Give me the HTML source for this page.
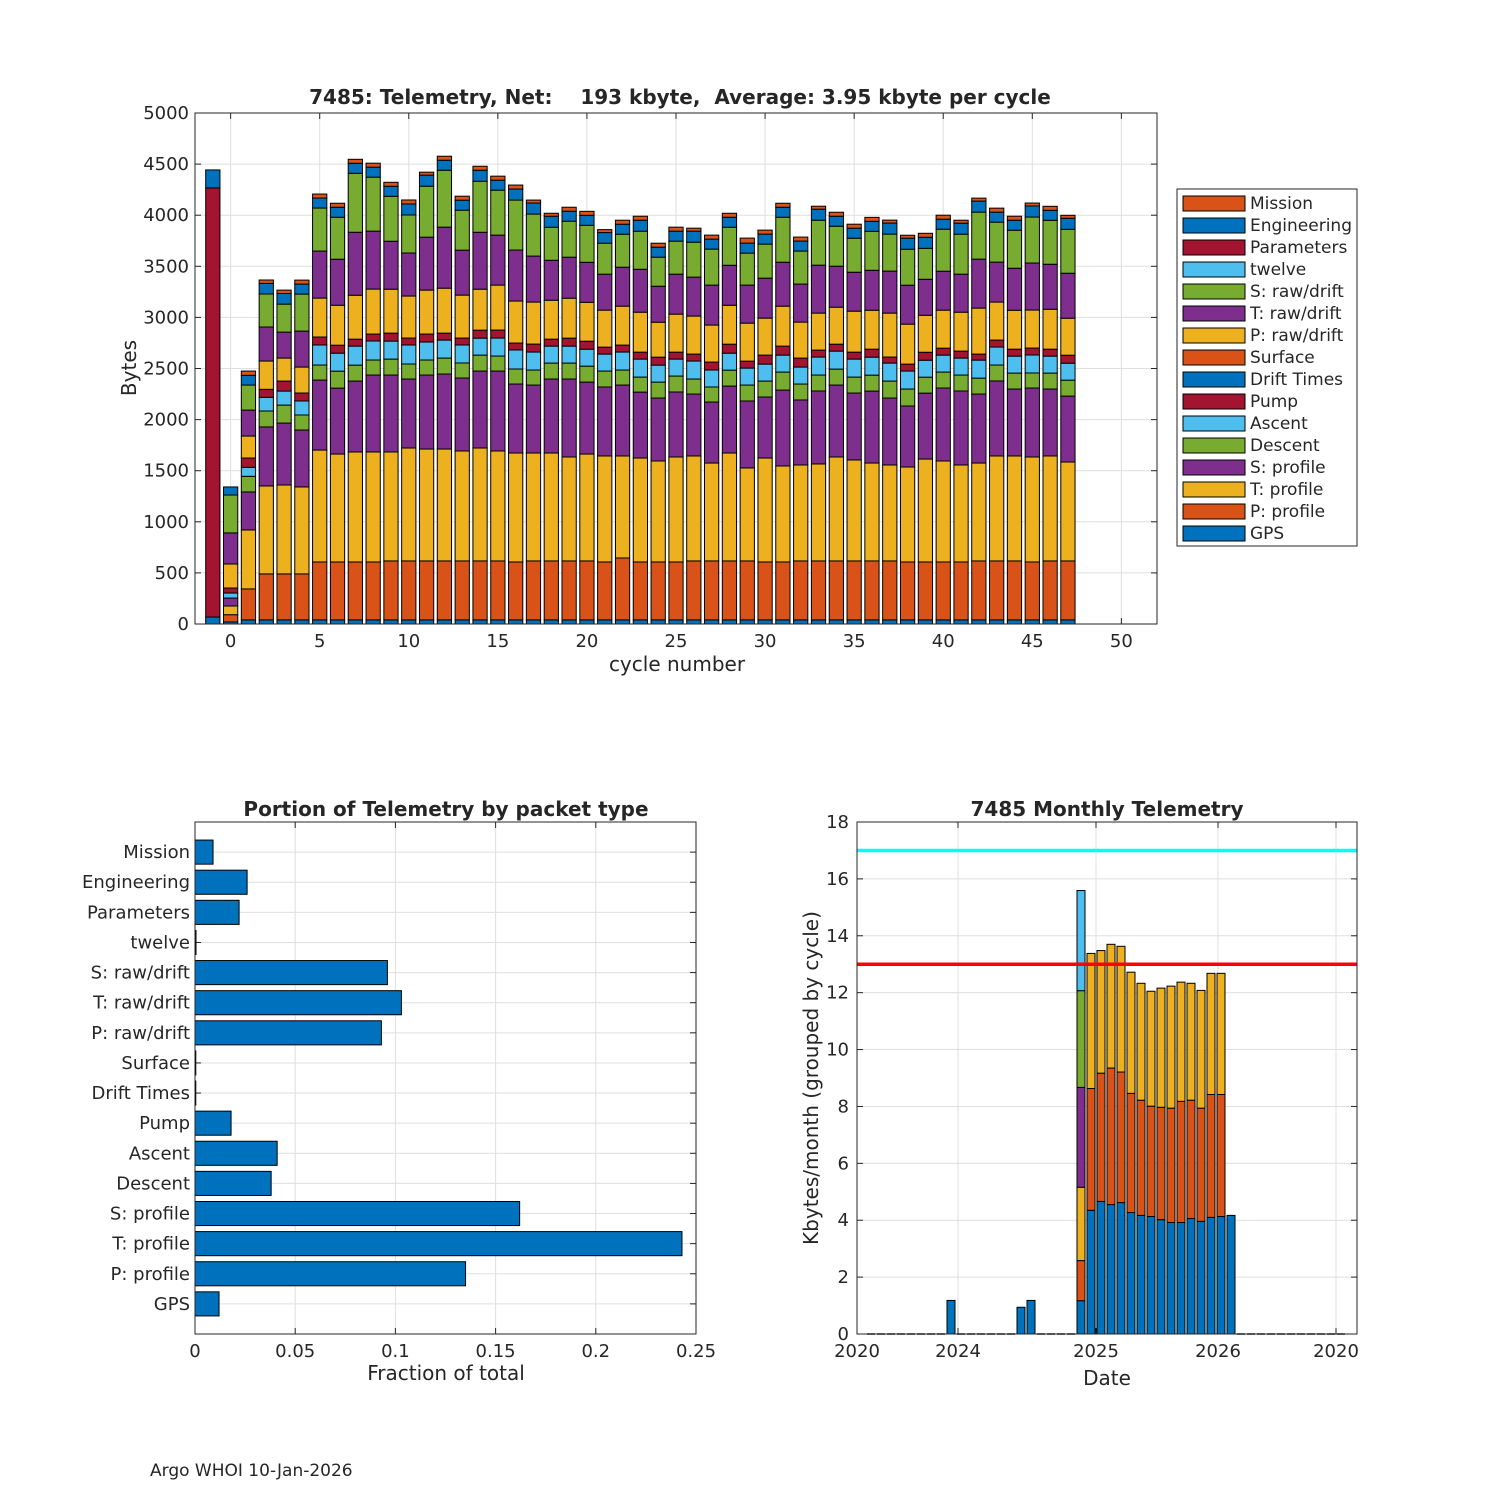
<!DOCTYPE html>
<html><head><meta charset="utf-8">
<style>
html,body{margin:0;padding:0;background:#fff;}
svg{display:block;font-family:"DejaVu Sans","Liberation Sans",sans-serif;}
text{fill:#262626;}
</style></head>
<body>
<svg id="fig" width="1500" height="1500" viewBox="0 0 1500 1500" xmlns="http://www.w3.org/2000/svg">
<rect x="0" y="0" width="1500" height="1500" fill="#fff"/>
<text x="150" y="1476" font-size="17">Argo WHOI 10-Jan-2026</text>
</svg>
<script>
// ---------- Top chart data (bytes per packet type per cycle) ----------
const cycles = [-1,0,1,2,3,4,5,6,7,8,9,10,11,12,13,14,15,16,17,18,19,20,21,22,23,24,25,26,27,28,29,30,31,32,33,34,35,36,37,38,39,40,41,42,43,44,45,46,47];
const gps = [68,20,40,40,40,40,40,40,40,40,40,40,40,40,40,40,40,40,40,40,40,40,40,40,40,40,40,40,40,40,40,40,40,40,40,40,40,40,40,40,40,40,40,40,40,40,40,40,40];
const pProfile = [0,71,303,450,450,450,567,567,567,567,577,577,577,577,577,577,577,567,577,577,577,577,567,606,567,567,567,577,577,577,577,567,567,577,577,577,577,577,577,567,567,567,567,577,577,577,567,577,577];
const tProfile = [0,85,577,861,870,851,1095,1056,1076,1076,1066,1105,1095,1095,1076,1105,1076,1066,1056,1056,1017,1046,1037,998,1017,988,1027,1027,958,1056,910,1017,939,939,949,1017,988,958,939,929,1007,988,949,958,1027,1027,1027,1027,968];
const sProfile = [0,78,372,577,606,557,685,645,694,753,753,675,724,734,714,753,782,675,665,724,763,704,675,694,645,616,636,606,597,655,655,597,743,636,714,704,655,704,655,597,645,714,724,675,734,655,675,655,645];
const descent = [0,0,153,156,176,147,147,166,156,147,156,147,147,156,147,156,147,147,147,156,156,156,156,147,147,156,156,147,147,156,156,156,176,156,156,156,156,156,166,166,156,156,156,156,156,156,147,156,156];
const ascent = [0,49,88,134,137,137,196,176,186,186,176,186,176,176,176,166,176,186,176,166,166,166,166,176,176,166,166,176,166,166,166,166,166,166,176,176,176,176,176,176,166,166,166,176,176,166,176,166,166];
const pump = [0,49,91,78,98,78,78,78,68,68,78,68,78,68,68,78,78,68,78,68,78,78,68,68,68,78,68,68,78,88,68,88,88,88,68,68,68,78,59,68,78,68,68,59,68,68,68,68,78];
const driftTimes = [0,0,0,0,0,0,0,0,0,0,0,0,0,0,0,0,0,0,0,0,0,0,0,0,0,0,0,0,0,0,0,0,0,0,0,0,0,0,0,0,0,0,0,0,0,0,0,0,0];
const surface = [0,0,0,0,0,0,0,0,0,0,0,0,0,0,0,0,0,0,0,0,0,0,0,0,0,0,0,0,0,0,0,0,0,0,0,0,0,0,0,0,0,0,0,0,0,0,0,0,0];
const pRaw = [0,235,215,277,225,254,381,391,430,440,430,411,430,440,420,401,440,411,411,381,391,381,362,381,391,342,372,372,362,381,372,362,391,352,362,362,401,381,430,391,362,372,381,450,372,381,372,391,362];
const tRaw = [0,304,254,333,254,352,460,450,616,567,469,421,518,597,440,557,489,499,450,391,401,391,352,381,420,352,391,381,391,391,372,391,430,372,469,401,381,391,411,381,352,381,372,479,391,411,460,440,440];
const sRaw = [0,371,245,323,274,362,421,411,577,528,440,372,499,557,391,499,440,489,411,323,352,362,303,323,372,284,323,342,352,372,313,333,440,323,440,391,333,381,362,352,303,411,391,460,391,372,450,430,430];
const twelve = [0,0,0,0,0,0,0,0,0,0,0,0,0,0,0,0,0,0,0,0,0,0,0,0,0,0,0,0,0,0,0,0,0,0,0,0,0,0,0,0,0,0,0,0,0,0,0,0,0];
const parameters = [4199,0,0,0,0,0,0,0,0,0,0,0,0,0,0,0,0,0,0,0,0,0,0,0,0,0,0,0,0,0,0,0,0,0,0,0,0,0,0,0,0,0,0,0,0,0,0,0,0];
const engineering = [176,79,95,104,104,98,98,98,98,98,98,108,108,98,98,108,98,108,108,108,98,98,104,98,108,98,98,108,98,98,98,98,98,98,108,98,98,98,108,108,108,98,108,108,98,98,108,98,108];
const mission = [0,0,42,33,33,39,39,39,39,39,39,39,29,39,39,39,39,39,29,29,39,39,29,39,39,39,39,29,39,39,49,39,39,39,29,39,39,39,29,29,39,39,29,29,39,39,29,39,29];
const xTicksTop = [0,5,10,15,20,25,30,35,40,45,50];
const yTicksTop = [0,500,1000,1500,2000,2500,3000,3500,4000,4500,5000];

// ---------- Bottom-left data ----------
const packetTypes = ["GPS","P: profile","T: profile","S: profile","Descent","Ascent","Pump","Drift Times","Surface","P: raw/drift","T: raw/drift","S: raw/drift","twelve","Parameters","Engineering","Mission"];
const fractions = [0.012,0.135,0.243,0.162,0.038,0.041,0.018,0.0004,0.0004,0.093,0.103,0.096,0.0005,0.022,0.026,0.009];
const xTicksFrac = [0,0.05,0.1,0.15,0.2,0.25];
const xTickFracLabels = ["0","0.05","0.1","0.15","0.2","0.25"];

// ---------- Bottom-right data (monthly, month index relative) ----------
const months = [-21,-20,-19,-18,-17,-16,-15,-14,-13,-12,-11,-10,-9,-8,-7,-6,-5,-4,-3,-2,-1,0,1,2,3,4,5,6,7,8,9,10,11,12,13,14,15,16,17,18,19,20,21,22,23,24,25,26];
const mBlue = [0,0,0,0,0,0,0,0,1.18,0,0,0,0,0,0,0.94,1.18,0,0,0,0,1.17,4.35,4.66,4.55,4.62,4.27,4.17,4.13,4.02,3.92,3.92,4.06,3.96,4.10,4.13,4.17,0,0,0,0,0,0,0,0,0,0,0];
const mOrange = [0,0,0,0,0,0,0,0,0,0,0,0,0,0,0,0,0,0,0,0,0,1.41,4.28,4.51,4.80,4.59,4.19,4.05,3.88,3.95,4.02,4.26,4.16,3.98,4.32,4.29,0,0,0,0,0,0,0,0,0,0,0,0];
const mYellow = [0,0,0,0,0,0,0,0,0,0,0,0,0,0,0,0,0,0,0,0,0,2.58,4.75,4.31,4.35,4.42,4.26,4.11,4.04,4.19,4.29,4.19,4.11,4.14,4.26,4.26,0,0,0,0,0,0,0,0,0,0,0,0];
const mPurple = [0,0,0,0,0,0,0,0,0,0,0,0,0,0,0,0,0,0,0,0,0,3.51,0,0,0,0,0,0,0,0,0,0,0,0,0,0,0,0,0,0,0,0,0,0,0,0,0,0];
const mGreen = [0,0,0,0,0,0,0,0,0,0,0,0,0,0,0,0,0,0,0,0,0,3.40,0,0,0,0,0,0,0,0,0,0,0,0,0,0,0,0,0,0,0,0,0,0,0,0,0,0];
const mLight = [0,0,0,0,0,0,0,0,0,0,0,0,0,0,0,0,0,0,0,0,0,3.52,0,0,0,0,0,0,0,0,0,0,0,0,0,0,0,0,0,0,0,0,0,0,0,0,0,0];
const yTicksMonth = [0,2,4,6,8,10,12,14,16,18];
const dateTickMonths = [-22.4,-12.3,1.5,13.7,25.5];
const dateTickLabels = ["2020","2024","2025","2026","2020"];
const limitLines = [17,13];

const NS = "http://www.w3.org/2000/svg";
const fig = document.getElementById('fig');
function mk(tag, attrs, parent){
  const e = document.createElementNS(NS, tag);
  for (const k in attrs) e.setAttribute(k, attrs[k]);
  (parent||fig).appendChild(e);
  return e;
}
function txt(parent, x, y, s, size, anchor, extra){
  const t = mk('text', Object.assign({x:x, y:y, 'font-size':size, 'text-anchor':anchor||'middle'}, extra||{}), parent);
  t.textContent = s;
  return t;
}
const C = {blue:"#0072BD",orange:"#D95319",yellow:"#EDB120",purple:"#7E2F8E",green:"#77AC30",light:"#4DBEEE",red:"#A2142F"};

// ================= TOP CHART =================
const T = {x0:195, x1:1157, y0:113, y1:624, xmin:-2, xmax:52, ymin:0, ymax:5000};
const tx = v => T.x0 + (v - T.xmin)/(T.xmax - T.xmin)*(T.x1 - T.x0);
const ty = v => T.y1 - (v - T.ymin)/(T.ymax - T.ymin)*(T.y1 - T.y0);
const topG = mk('g', {});


mk('rect', {x:T.x0, y:T.y0, width:T.x1-T.x0, height:T.y1-T.y0, fill:'#fff'}, topG);
xTicksTop.forEach(v => {
  mk('line', {x1:tx(v), x2:tx(v), y1:T.y0, y2:T.y1, stroke:'#dfdfdf', 'stroke-width':1}, topG);
  mk('line', {x1:tx(v), x2:tx(v), y1:T.y1, y2:T.y1-6, stroke:'#262626'}, topG);
  mk('line', {x1:tx(v), x2:tx(v), y1:T.y0, y2:T.y0+6, stroke:'#262626'}, topG);
  const t = txt(topG, tx(v), T.y1+23, String(v), 18);
  
});
yTicksTop.forEach(v => {
  mk('line', {x1:T.x0, x2:T.x1, y1:ty(v), y2:ty(v), stroke:'#dfdfdf', 'stroke-width':1}, topG);
  mk('line', {x1:T.x0, x2:T.x0+6, y1:ty(v), y2:ty(v), stroke:'#262626'}, topG);
  mk('line', {x1:T.x1, x2:T.x1-6, y1:ty(v), y2:ty(v), stroke:'#262626'}, topG);
  const t = txt(topG, T.x0-6, ty(v)+6, String(v), 18, 'end');
  
});
const topSeries = [
  ["GPS", gps, C.blue], ["P: profile", pProfile, C.orange], ["T: profile", tProfile, C.yellow],
  ["S: profile", sProfile, C.purple], ["Descent", descent, C.green], ["Ascent", ascent, C.light],
  ["Pump", pump, C.red], ["Drift Times", driftTimes, C.blue], ["Surface", surface, C.orange],
  ["P: raw/drift", pRaw, C.yellow], ["T: raw/drift", tRaw, C.purple], ["S: raw/drift", sRaw, C.green],
  ["twelve", twelve, C.light], ["Parameters", parameters, C.red], ["Engineering", engineering, C.blue],
  ["Mission", mission, C.orange]
];
const barW = 0.8;
cycles.forEach((cy, i) => {
  let acc = 0;
  topSeries.forEach(s => {
    const v = s[1][i];
    if (v > 0) {
      const r = mk('rect', {x:tx(cy-barW/2), y:ty(acc+v), width:tx(cy+barW/2)-tx(cy-barW/2), height:ty(acc)-ty(acc+v), fill:s[2], stroke:'#000', 'stroke-width':1}, topG);
      
      
    }
    acc += v;
  });
});
mk('rect', {x:T.x0, y:T.y0, width:T.x1-T.x0, height:T.y1-T.y0, fill:'none', stroke:'#262626', 'stroke-width':1}, topG);
const tt = txt(topG, 680, 104, "7485: Telemetry, Net:    193 kbyte,  Average: 3.95 kbyte per cycle", 20, 'middle', {'font-weight':'bold', style:'white-space:pre'});


const xl = txt(topG, 677, 671, "cycle number", 20);


const yl = txt(topG, 136, 368, "Bytes", 20, 'middle', {transform:'rotate(-90 136 368)'});



// legend
const lg = mk('g', {});


mk('rect', {x:1177, y:189, width:180, height:357, fill:'#fff', stroke:'#262626', 'stroke-width':1}, lg);
topSeries.slice().reverse().forEach((s, k) => {
  const y = 203 + k*22;
  const g = mk('g', {}, lg);
  
  
  mk('rect', {x:1183, y:y-7, width:62, height:15, fill:s[2], stroke:'#000', 'stroke-width':1}, g);
  txt(g, 1250, y+6, s[0], 17, 'start');
});

// ================= BOTTOM-LEFT =================
const L = {x0:195, x1:696, y0:822, y1:1334, xmin:0, xmax:0.25, ymin:0, ymax:17};
const lx = v => L.x0 + (v - L.xmin)/(L.xmax - L.xmin)*(L.x1 - L.x0);
const ly = v => L.y1 - (v - L.ymin)/(L.ymax - L.ymin)*(L.y1 - L.y0);
const bl = mk('g', {});


xTicksFrac.forEach((v, k) => {
  mk('line', {x1:lx(v), x2:lx(v), y1:L.y0, y2:L.y1, stroke:'#dfdfdf'}, bl);
  mk('line', {x1:lx(v), x2:lx(v), y1:L.y1, y2:L.y1-6, stroke:'#262626'}, bl);
  mk('line', {x1:lx(v), x2:lx(v), y1:L.y0, y2:L.y0+6, stroke:'#262626'}, bl);
  const t = txt(bl, lx(v), L.y1+23, xTickFracLabels[k], 18);
  
});
packetTypes.forEach((p, k) => {
  const c = k + 1;
  mk('line', {x1:L.x0, x2:L.x1, y1:ly(c), y2:ly(c), stroke:'#dfdfdf'}, bl);
  mk('line', {x1:L.x0, x2:L.x0+6, y1:ly(c), y2:ly(c), stroke:'#262626'}, bl);
  mk('line', {x1:L.x1, x2:L.x1-6, y1:ly(c), y2:ly(c), stroke:'#262626'}, bl);
  const t = txt(bl, L.x0-5, ly(c)+6, p, 18, 'end');
  
  const r = mk('rect', {x:lx(0), y:ly(c+0.4), width:lx(fractions[k])-lx(0), height:ly(c-0.4)-ly(c+0.4), fill:C.blue, stroke:'#000', 'stroke-width':1}, bl);
  
  
});
mk('rect', {x:L.x0, y:L.y0, width:L.x1-L.x0, height:L.y1-L.y0, fill:'none', stroke:'#262626'}, bl);
const bt = txt(bl, 446, 816, "Portion of Telemetry by packet type", 20, 'middle', {'font-weight':'bold'});

const bx = txt(bl, 446, 1380, "Fraction of total", 20);


// ================= BOTTOM-RIGHT =================
const R = {x0:857, x1:1357, y0:822, y1:1334, ymin:0, ymax:18};
const rx = m => 1081 + m*10.0;
const ry = v => R.y1 - (v - R.ymin)/(R.ymax - R.ymin)*(R.y1 - R.y0);
const br = mk('g', {});


yTicksMonth.forEach(v => {
  mk('line', {x1:R.x0, x2:R.x1, y1:ry(v), y2:ry(v), stroke:'#dfdfdf'}, br);
  mk('line', {x1:R.x0, x2:R.x0+6, y1:ry(v), y2:ry(v), stroke:'#262626'}, br);
  mk('line', {x1:R.x1, x2:R.x1-6, y1:ry(v), y2:ry(v), stroke:'#262626'}, br);
  const t = txt(br, R.x0-8, ry(v)+6, String(v), 18, 'end');
  
});
dateTickMonths.forEach((m, k) => {
  const x = rx(m);
  mk('line', {x1:x, x2:x, y1:R.y0, y2:R.y1, stroke:'#dfdfdf'}, br);
  mk('line', {x1:x, x2:x, y1:R.y1, y2:R.y1-6, stroke:'#262626'}, br);
  mk('line', {x1:x, x2:x, y1:R.y0, y2:R.y0+6, stroke:'#262626'}, br);
  const t = txt(br, x, R.y1+23, dateTickLabels[k], 18);
  
});
const mSeries = [mBlue, mOrange, mYellow, mPurple, mGreen, mLight];
const mColors = [C.blue, C.orange, C.yellow, C.purple, C.green, C.light];
months.forEach((m, i) => {
  let acc = 0;
  const total = mSeries.reduce((a, s) => a + s[i], 0);
  if (total === 0) {
    const z = mk('line', {x1:rx(m-0.4), x2:rx(m+0.4), y1:ry(0), y2:ry(0), stroke:'#000', 'stroke-width':1.5}, br);
    
    
  }
  mSeries.forEach((s, k) => {
    const v = s[i];
    if (v > 0) {
      const r = mk('rect', {x:rx(m-0.4), y:ry(acc+v), width:rx(m+0.4)-rx(m-0.4), height:ry(acc)-ry(acc+v), fill:mColors[k], stroke:'#000', 'stroke-width':1}, br);
      
      
    }
    acc += v;
  });
});
const cyanLine = mk('line', {x1:R.x0, x2:R.x1, y1:ry(limitLines[0]), y2:ry(limitLines[0]), stroke:'#00FFFF', 'stroke-width':3.5}, br);


const redLine = mk('line', {x1:R.x0, x2:R.x1, y1:ry(limitLines[1]), y2:ry(limitLines[1]), stroke:'#FF0000', 'stroke-width':3.5}, br);


mk('rect', {x:R.x0, y:R.y0, width:R.x1-R.x0, height:R.y1-R.y0, fill:'none', stroke:'#262626'}, br);
const rt = txt(br, 1107, 816, "7485 Monthly Telemetry", 20, 'middle', {'font-weight':'bold'});

const rxl = txt(br, 1107, 1385, "Date", 20);

const ryl = txt(br, 818, 1078, "Kbytes/month (grouped by cycle)", 20, 'middle', {transform:'rotate(-90 818 1078)'});

</script>
</body></html>
